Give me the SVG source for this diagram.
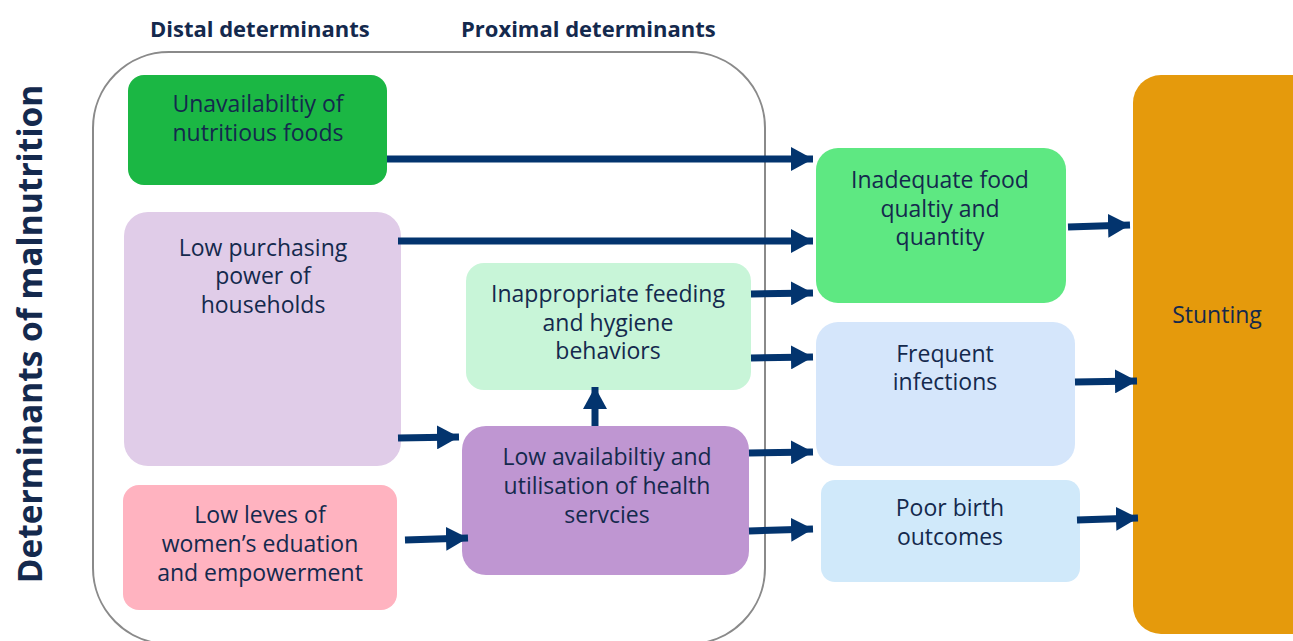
<svg xmlns="http://www.w3.org/2000/svg" width="1293" height="641" viewBox="0 0 1293 641">
  <defs>
    <style>
      .lbl { font-family: "Open Sans", "Liberation Sans", sans-serif; font-size: 23px; fill: #14294d; text-anchor: middle; }
      .hdr { font-family: "Open Sans", "Liberation Sans", sans-serif; font-size: 22px; font-weight: bold; fill: #14294d; }
      .title { font-family: "Open Sans", "Liberation Sans", sans-serif; font-size: 33.5px; font-weight: bold; fill: #14294d; text-anchor: middle; }
      .link { stroke: #03346e; stroke-width: 7; fill: none; marker-end: url(#head); }
    </style>
    <marker id="head" markerUnits="userSpaceOnUse" viewBox="0 0 22 24" refX="22" refY="12" markerWidth="22" markerHeight="24" orient="auto">
      <path d="M0,0 L22,12 L0,24 Z" fill="#03346e"/>
    </marker>
  </defs>

  <rect width="1293" height="641" fill="#ffffff"/>

  <!-- side title and column headers -->
  <text class="title" transform="translate(42,334) rotate(-90)">Determinants of malnutrition</text>
  <text class="hdr" x="150" y="37">Distal determinants</text>
  <text class="hdr" x="461" y="37">Proximal determinants</text>

  <!-- frame around distal and proximal determinants -->
  <rect id="frame" x="93" y="52" width="672" height="592" rx="76" ry="76" fill="none" stroke="#8a8a8a" stroke-width="2"/>

  <g id="unavailability">
    <rect x="128" y="75" width="259" height="110" rx="16" fill="#1bb744"/>
    <text class="lbl" x="258" y="112">Unavailabiltiy of</text>
    <text class="lbl" x="258" y="141">nutritious foods</text>
  </g>

  <g id="purchasing-power">
    <rect x="124" y="212" width="277" height="254" rx="24" fill="#e0cce8"/>
    <text class="lbl" x="263" y="256">Low purchasing</text>
    <text class="lbl" x="263" y="284">power of</text>
    <text class="lbl" x="263" y="313">households</text>
  </g>

  <g id="womens-education">
    <rect x="123" y="485" width="274" height="125" rx="16" fill="#ffb3c0"/>
    <text class="lbl" x="260" y="523">Low leves of</text>
    <text class="lbl" x="260" y="552">women’s eduation</text>
    <text class="lbl" x="260" y="581">and empowerment</text>
  </g>

  <g id="feeding-hygiene">
    <rect x="466" y="263" width="285" height="127" rx="18" fill="#c8f5d8"/>
    <text class="lbl" x="608" y="302">Inappropriate feeding</text>
    <text class="lbl" x="608" y="331">and hygiene</text>
    <text class="lbl" x="608" y="359">behaviors</text>
  </g>

  <g id="health-services">
    <rect x="462" y="426" width="287" height="149" rx="24" fill="#bf96d2"/>
    <text class="lbl" x="607" y="465">Low availabiltiy and</text>
    <text class="lbl" x="607" y="494">utilisation of health</text>
    <text class="lbl" x="607" y="523">servcies</text>
  </g>

  <g id="food-quality">
    <rect x="816" y="148" width="250" height="155" rx="22" fill="#5ee882"/>
    <text class="lbl" x="940" y="188">Inadequate food</text>
    <text class="lbl" x="940" y="217">qualtiy and</text>
    <text class="lbl" x="940" y="245">quantity</text>
  </g>

  <g id="infections">
    <rect x="816" y="322" width="259" height="144" rx="22" fill="#d5e6fb"/>
    <text class="lbl" x="945" y="362">Frequent</text>
    <text class="lbl" x="945" y="390">infections</text>
  </g>

  <g id="birth-outcomes">
    <rect x="821" y="480" width="259" height="102" rx="14" fill="#d0e9fa"/>
    <text class="lbl" x="950" y="516">Poor birth</text>
    <text class="lbl" x="950" y="545">outcomes</text>
  </g>

  <g id="stunting">
    <rect x="1133" y="75" width="190" height="559" rx="28" fill="#e59a0c"/>
    <text class="lbl" x="1217" y="323">Stunting</text>
  </g>

  <g id="connectors">
    <line class="link" x1="387" y1="159" x2="813" y2="159"/>
    <line class="link" x1="398" y1="241" x2="813" y2="241"/>
    <line class="link" x1="751" y1="294" x2="813" y2="293"/>
    <line class="link" x1="751" y1="358" x2="813" y2="357"/>
    <line class="link" x1="398" y1="438" x2="459" y2="437"/>
    <line class="link" x1="405" y1="540" x2="468" y2="538"/>
    <line class="link" x1="595" y1="426" x2="595" y2="387"/>
    <line class="link" x1="749" y1="453" x2="813" y2="452"/>
    <line class="link" x1="749" y1="531" x2="813" y2="529"/>
    <line class="link" x1="1068" y1="227" x2="1130" y2="225"/>
    <line class="link" x1="1075" y1="382" x2="1137" y2="381"/>
    <line class="link" x1="1077" y1="520" x2="1138" y2="518"/>
  </g>
</svg>
